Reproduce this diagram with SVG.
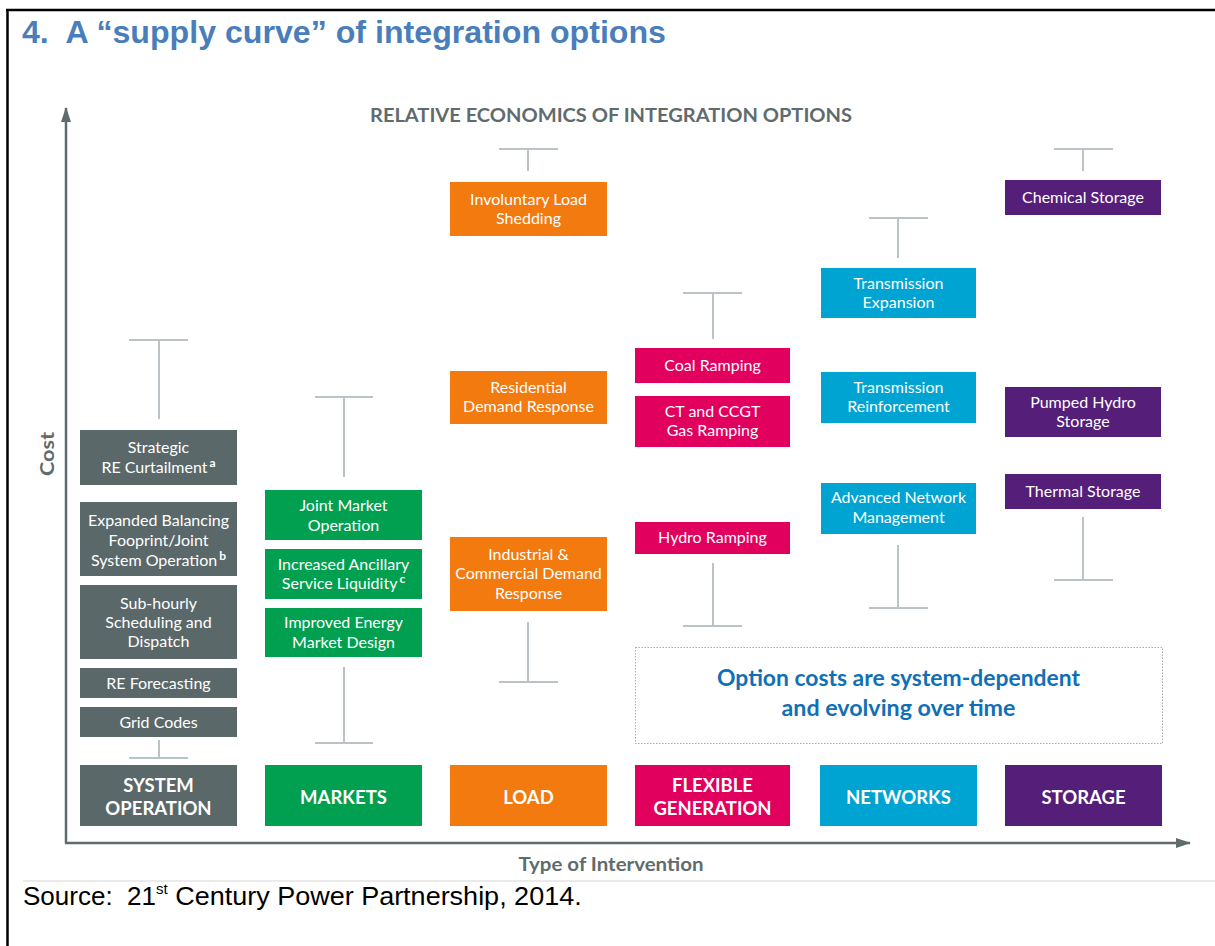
<svg xmlns="http://www.w3.org/2000/svg" width="1215" height="946" viewBox="0 0 1215 946">
  <style>
    .lbl { font-family: Lato, "Open Sans", sans-serif; font-size: 16px; fill: #ffffff; text-anchor: middle; }
    .cat { font-family: Lato, "Open Sans", sans-serif; font-size: 18.5px; font-weight: bold; fill: #ffffff; text-anchor: middle; }
    .axis { font-family: Lato, "Open Sans", sans-serif; font-size: 18px; font-weight: bold; fill: #5f6b6d; }
    .sup { font-size: 12px; font-weight: bold; }
    .whisker { stroke: #bcc3c6; stroke-width: 2; fill: none; }
    .sysop { fill: #5b6869; }
    .mkt { fill: #00a050; }
    .load { fill: #f27a0f; }
    .flex { fill: #e2005e; }
    .net { fill: #00a4d3; }
    .stor { fill: #551e78; }
    .note { font-family: Lato, "Open Sans", sans-serif; font-size: 22px; font-weight: bold; fill: #1170b5; text-anchor: middle; }
  </style>
  <defs>
    <marker id="arrow" viewBox="0 0 15 10" refX="14" refY="5" markerWidth="15" markerHeight="10" markerUnits="userSpaceOnUse" orient="auto">
      <path d="M0,0 L15,5 L0,10 Z" fill="#5f6b6d"/>
    </marker>
  </defs>

  <rect width="1215" height="946" fill="#ffffff"/>

  <!-- page frame -->
  <g id="frame">
    <line x1="7.5" y1="10" x2="7.5" y2="946" stroke="#000" stroke-width="2.5"/>
    <line x1="6" y1="10" x2="1215" y2="10" stroke="#000" stroke-width="2.5"/>
    <line x1="23" y1="881" x2="1215" y2="881" stroke="#e3e3e3" stroke-width="1.5"/>
  </g>

  <text id="title" x="22" y="43" font-family="'Liberation Sans', Arial, sans-serif" font-size="31.5" font-weight="bold" fill="#4a7ebb" textLength="644" lengthAdjust="spacingAndGlyphs" xml:space="preserve">4.  A “supply curve” of integration options</text>

  <text x="611" y="122" class="axis" text-anchor="middle" textLength="482" lengthAdjust="spacingAndGlyphs">RELATIVE ECONOMICS OF INTEGRATION OPTIONS</text>

  <!-- axes -->
  <g id="axes" stroke="#5f6b6d" stroke-width="2.5">
    <line x1="66" y1="843" x2="66" y2="108" marker-end="url(#arrow)"/>
    <line x1="65" y1="843" x2="1190" y2="843" marker-end="url(#arrow)"/>
  </g>
  <text class="axis" transform="translate(54,454) rotate(-90)" text-anchor="middle" font-size="19" textLength="44" lengthAdjust="spacingAndGlyphs">Cost</text>
  <text x="611" y="871" class="axis" text-anchor="middle" textLength="185" lengthAdjust="spacingAndGlyphs">Type of Intervention</text>

  <!-- cost-range whiskers -->
  <g id="connectors" class="whisker">
    <path d="M129,340 H188 M159,340 V419"/>
    <path d="M159,740 V758 M129,758 H188"/>
    <path d="M315,397 H373 M344,397 V477"/>
    <path d="M344,667 V743 M315,743 H373"/>
    <path d="M499,149 H558 M528,149 V171"/>
    <path d="M528,622 V682 M499,682 H558"/>
    <path d="M683,293 H742 M713,293 V339"/>
    <path d="M713,563 V626 M683,626 H742"/>
    <path d="M869,218 H928 M898,218 V258"/>
    <path d="M898,545 V608 M869,608 H928"/>
    <path d="M1054,149 H1113 M1083,149 V171"/>
    <path d="M1083,517 V580 M1054,580 H1113"/>
  </g>

  <!-- System operation -->
  <g id="strategic-curtailment">
    <rect class="sysop" x="80" y="430" width="157" height="55"/>
    <text class="lbl" x="158.5" y="453">Strategic</text>
    <text class="lbl" x="158.5" y="473">RE Curtailment<tspan class="sup" dx="2" dy="-6">a</tspan></text>
  </g>
  <g id="balancing-footprint">
    <rect class="sysop" x="80" y="502" width="157" height="74"/>
    <text class="lbl" x="158.5" y="526">Expanded Balancing</text>
    <text class="lbl" x="158.5" y="546">Fooprint/Joint</text>
    <text class="lbl" x="158.5" y="566">System Operation<tspan class="sup" dx="2" dy="-6">b</tspan></text>
  </g>
  <g id="sub-hourly">
    <rect class="sysop" x="80" y="585" width="157" height="74"/>
    <text class="lbl" x="158.5" y="609">Sub-hourly</text>
    <text class="lbl" x="158.5" y="628">Scheduling and</text>
    <text class="lbl" x="158.5" y="647">Dispatch</text>
  </g>
  <g id="re-forecasting">
    <rect class="sysop" x="80" y="668" width="157" height="30"/>
    <text class="lbl" x="158.5" y="689">RE Forecasting</text>
  </g>
  <g id="grid-codes">
    <rect class="sysop" x="80" y="707" width="157" height="30"/>
    <text class="lbl" x="158.5" y="728">Grid Codes</text>
  </g>
  <g id="cat-system-operation">
    <rect class="sysop" x="80" y="765" width="157" height="61"/>
    <text class="cat" x="158.5" y="792">SYSTEM</text>
    <text class="cat" x="158.5" y="815">OPERATION</text>
  </g>

  <!-- Markets -->
  <g id="joint-market">
    <rect class="mkt" x="265" y="490" width="157" height="50"/>
    <text class="lbl" x="343.5" y="511">Joint Market</text>
    <text class="lbl" x="343.5" y="531">Operation</text>
  </g>
  <g id="ancillary-liquidity">
    <rect class="mkt" x="265" y="549" width="157" height="50"/>
    <text class="lbl" x="343.5" y="570">Increased Ancillary</text>
    <text class="lbl" x="343.5" y="589">Service Liquidity<tspan class="sup" dx="2" dy="-6">c</tspan></text>
  </g>
  <g id="energy-market-design">
    <rect class="mkt" x="265" y="608" width="157" height="49"/>
    <text class="lbl" x="343.5" y="628">Improved Energy</text>
    <text class="lbl" x="343.5" y="648">Market Design</text>
  </g>
  <g id="cat-markets">
    <rect class="mkt" x="265" y="765" width="157" height="61"/>
    <text class="cat" x="343.5" y="804">MARKETS</text>
  </g>

  <!-- Load -->
  <g id="load-shedding">
    <rect class="load" x="450" y="182" width="157" height="54"/>
    <text class="lbl" x="528.5" y="205">Involuntary Load</text>
    <text class="lbl" x="528.5" y="224">Shedding</text>
  </g>
  <g id="residential-dr">
    <rect class="load" x="450" y="371" width="157" height="53"/>
    <text class="lbl" x="528.5" y="393">Residential</text>
    <text class="lbl" x="528.5" y="412">Demand Response</text>
  </g>
  <g id="industrial-dr">
    <rect class="load" x="450" y="537" width="157" height="74"/>
    <text class="lbl" x="528.5" y="560">Industrial &amp;</text>
    <text class="lbl" x="528.5" y="579">Commercial Demand</text>
    <text class="lbl" x="528.5" y="599">Response</text>
  </g>
  <g id="cat-load">
    <rect class="load" x="450" y="765" width="157" height="61"/>
    <text class="cat" x="528.5" y="804">LOAD</text>
  </g>

  <!-- Flexible generation -->
  <g id="coal-ramping">
    <rect class="flex" x="635" y="348" width="155" height="35"/>
    <text class="lbl" x="712.5" y="371">Coal Ramping</text>
  </g>
  <g id="gas-ramping">
    <rect class="flex" x="635" y="396" width="155" height="51"/>
    <text class="lbl" x="712.5" y="417">CT and CCGT</text>
    <text class="lbl" x="712.5" y="436">Gas Ramping</text>
  </g>
  <g id="hydro-ramping">
    <rect class="flex" x="635" y="522" width="155" height="32"/>
    <text class="lbl" x="712.5" y="543">Hydro Ramping</text>
  </g>
  <g id="cat-flexible-generation">
    <rect class="flex" x="635" y="765" width="155" height="61"/>
    <text class="cat" x="712.5" y="792">FLEXIBLE</text>
    <text class="cat" x="712.5" y="815">GENERATION</text>
  </g>

  <!-- Networks -->
  <g id="transmission-expansion">
    <rect class="net" x="821" y="268" width="155" height="50"/>
    <text class="lbl" x="898.5" y="289">Transmission</text>
    <text class="lbl" x="898.5" y="308">Expansion</text>
  </g>
  <g id="transmission-reinforcement">
    <rect class="net" x="821" y="372" width="155" height="51"/>
    <text class="lbl" x="898.5" y="393">Transmission</text>
    <text class="lbl" x="898.5" y="412">Reinforcement</text>
  </g>
  <g id="advanced-network-mgmt">
    <rect class="net" x="821" y="483" width="155" height="51"/>
    <text class="lbl" x="898.5" y="503">Advanced Network</text>
    <text class="lbl" x="898.5" y="523">Management</text>
  </g>
  <g id="cat-networks">
    <rect class="net" x="820" y="765" width="157" height="61"/>
    <text class="cat" x="898.5" y="804">NETWORKS</text>
  </g>

  <!-- Storage -->
  <g id="chemical-storage">
    <rect class="stor" x="1005" y="180" width="156" height="35"/>
    <text class="lbl" x="1083" y="203">Chemical Storage</text>
  </g>
  <g id="pumped-hydro">
    <rect class="stor" x="1005" y="387" width="156" height="50"/>
    <text class="lbl" x="1083" y="408">Pumped Hydro</text>
    <text class="lbl" x="1083" y="427">Storage</text>
  </g>
  <g id="thermal-storage">
    <rect class="stor" x="1005" y="474" width="156" height="35"/>
    <text class="lbl" x="1083" y="497">Thermal Storage</text>
  </g>
  <g id="cat-storage">
    <rect class="stor" x="1005" y="765" width="157" height="61"/>
    <text class="cat" x="1083.5" y="804">STORAGE</text>
  </g>

  <!-- note -->
  <g id="note">
    <rect x="635.5" y="647.5" width="527" height="96" fill="none" stroke="#a9a9a9" stroke-width="1" stroke-dasharray="1.5,1.5"/>
    <text class="note" x="898.5" y="686" textLength="363" lengthAdjust="spacingAndGlyphs">Option costs are system-dependent</text>
    <text class="note" x="898.5" y="716" textLength="234" lengthAdjust="spacingAndGlyphs">and evolving over time</text>
  </g>

  <text id="source" x="23" y="905" font-family="'Liberation Sans', Arial, sans-serif" font-size="26" fill="#000" xml:space="preserve">Source:  21<tspan font-size="15" dy="-11">st</tspan><tspan dy="11" textLength="414" lengthAdjust="spacingAndGlyphs"> Century Power Partnership, 2014.</tspan></text>
</svg>
